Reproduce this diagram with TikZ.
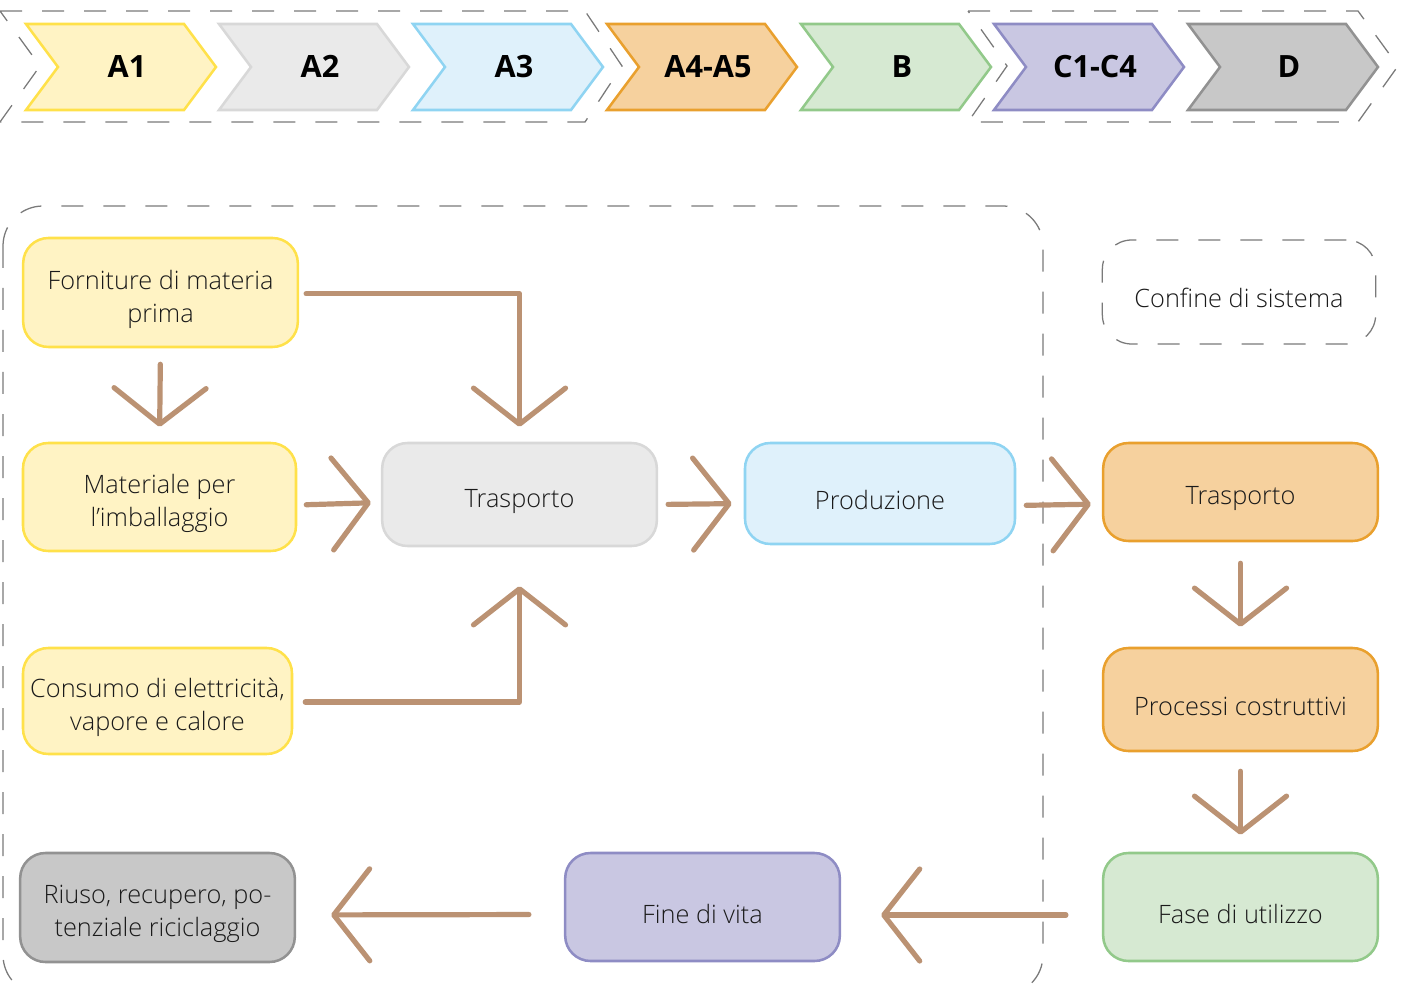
\documentclass[tikz,border=0pt]{standalone}
\usepackage{fontspec}
\setmainfont{Open Sans Light}[BoldFont={Open Sans Bold}]
\usetikzlibrary{arrows.meta}
\definecolor{txt}{HTML}{1A1A1A}
\definecolor{framec}{HTML}{7A7A7A}
\definecolor{brownc}{HTML}{BB9273}
\definecolor{yfill}{HTML}{FFF3C4}\definecolor{ydraw}{HTML}{FFE14A}
\definecolor{gfill}{HTML}{EAEAEA}\definecolor{gdraw}{HTML}{D8D8D8}
\definecolor{bfill}{HTML}{DFF1FB}\definecolor{bdraw}{HTML}{8FD4F2}
\definecolor{ofill}{HTML}{F6D19E}\definecolor{odraw}{HTML}{E9A02E}
\definecolor{grfill}{HTML}{D6E9D2}\definecolor{grdraw}{HTML}{92C98A}
\definecolor{pfill}{HTML}{C9C7E2}\definecolor{pdraw}{HTML}{8E8CC4}
\definecolor{dfill}{HTML}{C8C8C8}\definecolor{ddraw}{HTML}{929292}
\begin{document}
\begin{tikzpicture}[x=0.75pt,y=-0.75pt,
  frame/.style={draw=framec, line width=0.95pt, dash pattern=on 16.5pt off 15pt},
  chev/.style={line width=1.9pt, line join=miter},
  chevlabel/.style={font=\bfseries\fontsize{23}{28}\selectfont, text=black, inner sep=0pt},
  box/.style={draw, rounded corners=19pt, line width=1.9pt, inner sep=0pt, minimum width=206pt},
  lbl/.style={align=center, inner sep=0pt, font=\fontsize{19}{24.5}\selectfont, text=txt},
  arr/.style={draw=brownc, line width=3.9pt, line cap=round, line join=round,
    -{Straight Barb[length=27pt,width=69pt,round]}}
]
\useasboundingbox (0,0) rectangle (1406,987);
\clip (0,0) rectangle (1406,987);
% top dashed frames
\draw[frame] (0,11) -- (585,11) -- (622,66) -- (585,122) -- (0,122) -- (40,66) -- cycle;
\draw[frame] (968,11) -- (1358,11) -- (1398,66) -- (1358,122) -- (968,122) -- (1007,66) -- cycle;
% chevrons
\foreach \L/\f/\d/\t/\n in {26/yfill/ydraw/A1/ca, 219/gfill/gdraw/A2/cb, 413/bfill/bdraw/A3/cc,
  607/ofill/odraw/A4-A5/cd, 801/grfill/grdraw/B/ce, 994/pfill/pdraw/C1-C4/cf, 1188/dfill/ddraw/D/cg}{
  \filldraw[chev, fill=\f, draw=\d] (\L,24) -- ++(158,0) -- ++(32,43) -- ++(-32,43) -- ++(-158,0) -- ++(32,-43) -- cycle;
  \node[chevlabel] (\n) at (\L+101,66.5) {\t};
}
% main system boundary
\draw[frame, rounded corners=30pt] (3,206) rectangle (1043,995);
% legend
\node[frame, rounded corners=22pt, minimum width=205pt, minimum height=78pt, inner sep=0pt] (conf) at (1239,292) {};
\node[lbl] (conf-t) at ([yshift=-4.5pt]conf.center) {Confine di sistema};
% nodes
\node[box, fill=yfill, draw=ydraw, minimum height=81.75pt] (forn) at (160.5,292.5) {};
\node[box, fill=yfill, draw=ydraw, minimum width=204.75pt, minimum height=81pt] (mat) at (159.5,497) {};
\node[box, fill=yfill, draw=ydraw, minimum width=201.75pt, minimum height=79.5pt] (cons) at (157.5,701) {};
\node[box, fill=dfill, draw=ddraw, minimum height=81.75pt] (riuso) at (157.5,907.5) {};
\node[box, fill=gfill, draw=gdraw, minimum height=77.25pt] (tra1) at (519.5,494.5) {};
\node[box, fill=bfill, draw=bdraw, minimum width=202.5pt, minimum height=75.75pt] (prod) at (880,493.5) {};
\node[box, fill=ofill, draw=odraw, minimum height=73.5pt] (tra2) at (1240.5,492) {};
\node[box, fill=ofill, draw=odraw, minimum height=77.25pt] (proc) at (1240.5,699.5) {};
\node[box, fill=grfill, draw=grdraw, minimum height=81pt] (fase) at (1240.5,907) {};
\node[box, fill=pfill, draw=pdraw, minimum height=81pt] (fine) at (702.5,907) {};
% labels
\node[lbl] (forn-t) at ([yshift=-5pt]forn.center) {Forniture di materia\\prima};
\node[lbl] (mat-t) at ([yshift=-5pt]mat.center) {Materiale per\\l’imballaggio};
\node[lbl] (cons-t) at ([yshift=-5pt]cons.center) {Consumo di elettricità,\\vapore e calore};
\node[lbl] (riuso-t) at ([yshift=-5pt]riuso.center) {Riuso, recupero, po-\\tenziale riciclaggio};
\node[lbl] (tra1-t) at ([yshift=-5pt]tra1.center) {Trasporto};
\node[lbl] (prod-t) at ([yshift=-5pt]prod.center) {Produzione};
\node[lbl] (tra2-t) at ([yshift=-5pt]tra2.center) {Trasporto};
\node[lbl] (proc-t) at ([yshift=-5pt]proc.center) {Processi costruttivi};
\node[lbl] (fase-t) at ([yshift=-5pt]fase.center) {Fase di utilizzo};
\node[lbl] (fine-t) at ([yshift=-5pt]fine.center) {Fine di vita};
% connectors
\draw[arr, shorten <=12pt, shorten >=11.25pt] (forn.south) -- (mat.north);
\draw[arr, shorten <=5.25pt, shorten >=11.25pt] ([yshift=-1pt]forn.east) -| (tra1.north);
\draw[arr, shorten <=6.75pt, shorten >=7.5pt] ([yshift=-6pt]mat.east) -- ([yshift=-6pt]tra1.west);
\draw[arr, shorten <=9pt, shorten >=29.25pt] ([yshift=-0.75pt]cons.east) -| (tra1.south);
\draw[arr, shorten <=7.5pt, shorten >=9pt] ([yshift=-7.5pt]tra1.east) -- ([yshift=-7.5pt]prod.west);
\draw[arr, shorten <=7.5pt, shorten >=8.25pt] ([yshift=-9pt]prod.east) -- ([yshift=-9pt]tra2.west);
\draw[arr, shorten <=15.75pt, shorten >=15pt] (tra2.south) -- (proc.north);
\draw[arr, shorten <=14.25pt, shorten >=12.75pt] (proc.south) -- (fase.north);
\draw[arr, shorten <=27pt, shorten >=30pt] ([yshift=-6pt]fase.west) -- ([yshift=-6pt]fine.east);
\draw[arr, shorten <=26.25pt, shorten >=26.25pt] ([yshift=-5.6pt]fine.west) -- ([yshift=-5.6pt]riuso.east);
\end{tikzpicture}
\end{document}
